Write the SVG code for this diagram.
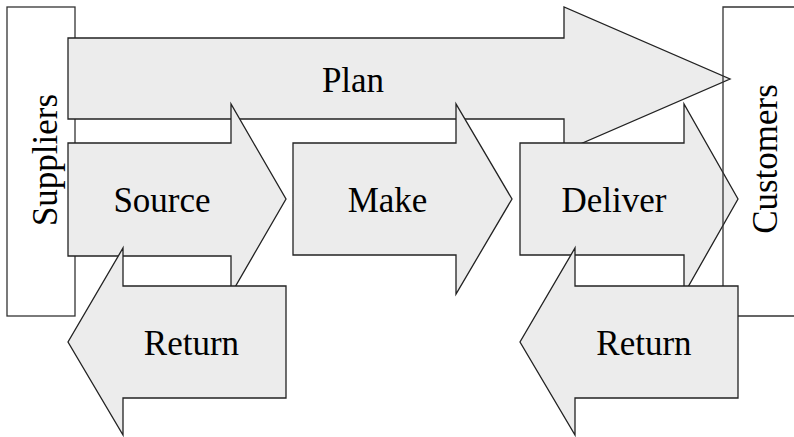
<svg xmlns="http://www.w3.org/2000/svg" width="794" height="437" viewBox="0 0 794 437">
<style>
.box{fill:#fff;stroke:#333;stroke-width:1.3}
.open{fill:none;stroke:#333;stroke-width:1.3}
.arr{fill:#ececec;stroke:#222;stroke-width:1.3;stroke-linejoin:miter}
.t{font-family:"Liberation Serif","Times New Roman",serif;font-size:35px;fill:#000;text-anchor:middle}
</style>
<g id="suppliers">
<rect class="box" x="7" y="7" width="68" height="309"/>
<text class="t" transform="translate(57,160) rotate(-90)">Suppliers</text>
</g>
<g id="connectors">
<g id="plan">
<polygon class="arr" points="68,38 564,38 564,7 730,79 564,151 564,119 68,119"/>
<text class="t" x="353" y="92">Plan</text>
</g>
<g id="source">
<polygon class="arr" points="68,143 231,143 231,104 286,199 231,294 231,256 68,256"/>
<text class="t" x="162" y="212">Source</text>
</g>
<g id="make">
<polygon class="arr" points="293,143 456,143 456,104 512,199 456,294 456,255 293,255"/>
<text class="t" x="387.5" y="212">Make</text>
</g>
<g id="deliver">
<polygon class="arr" points="520,143 684,143 684,104 738,199 684,294 684,255 520,255"/>
<text class="t" x="614" y="212">Deliver</text>
</g>
</g>
<g id="customers">
<path class="open" d="M794,7 H723 V316 H794"/>
<text class="t" transform="translate(777,159) rotate(-90)">Customers</text>
</g>
<g id="returns">
<g id="return-source">
<polygon class="arr" points="286,286 123,286 123,248 68,342 123,435 123,398 286,398"/>
<text class="t" x="191.5" y="355">Return</text>
</g>
<g id="return-deliver">
<polygon class="arr" points="738,286 575,286 575,248 520,342 575,435 575,398 738,398"/>
<text class="t" x="644" y="355">Return</text>
</g>
</g>
</svg>
